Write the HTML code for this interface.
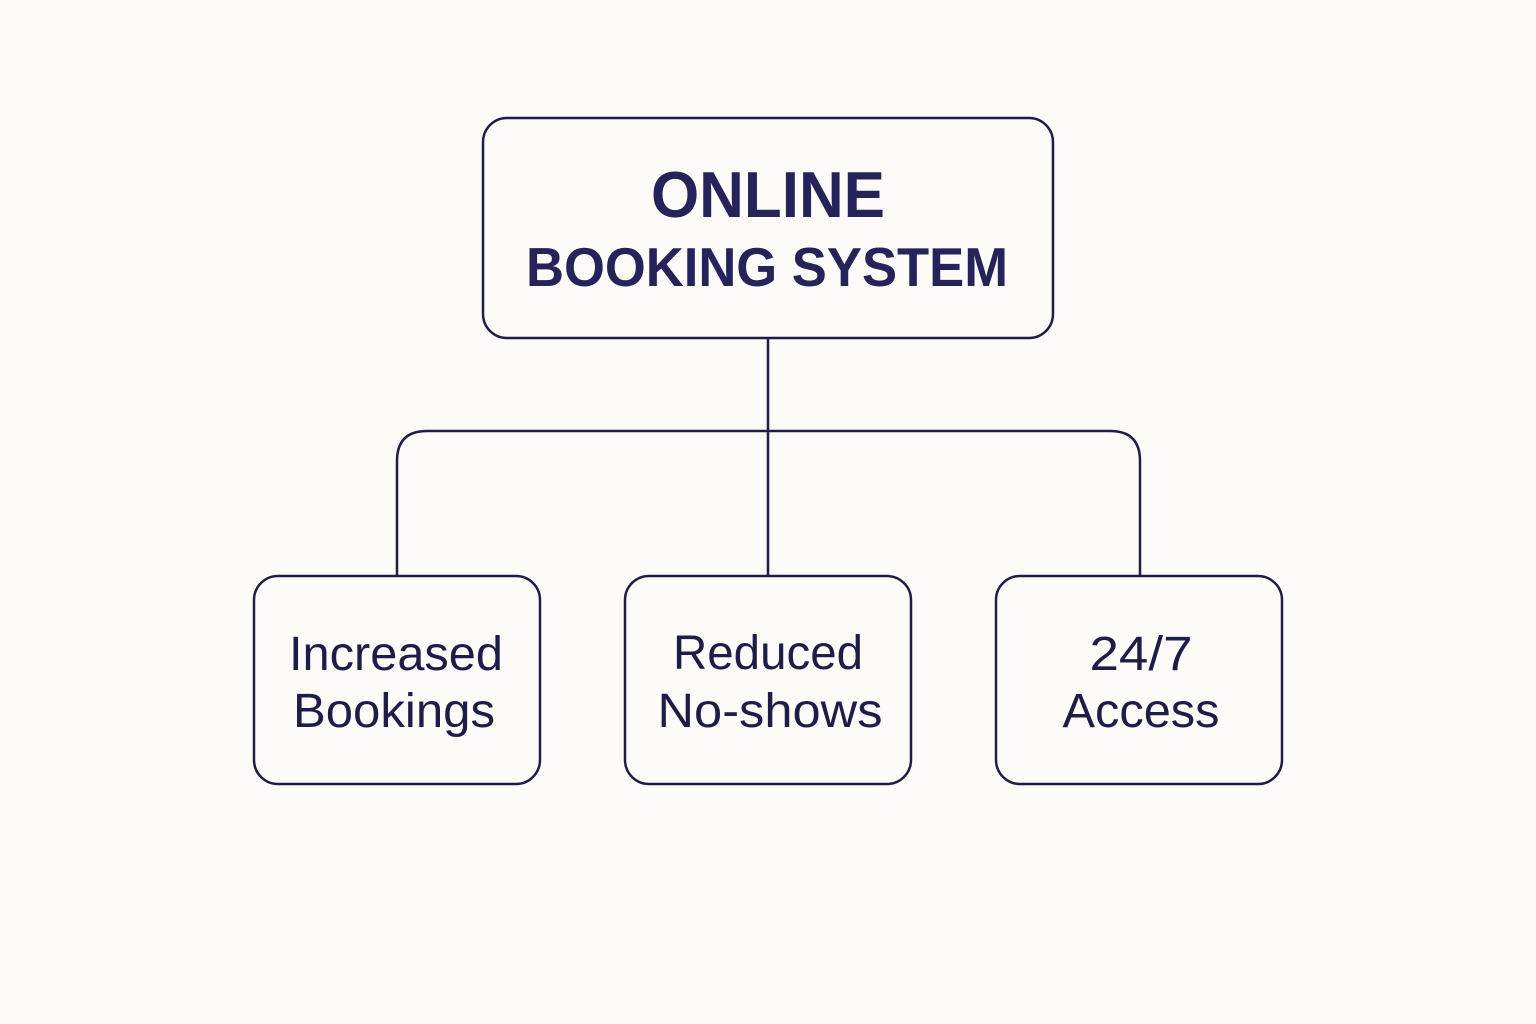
<!DOCTYPE html>
<html>
<head>
<meta charset="utf-8">
<style>
  html, body { margin: 0; padding: 0; background: #fcfbf7; }
  svg { display: block; }
</style>
</head>
<body>
<svg width="1536" height="1024" viewBox="0 0 1536 1024" xmlns="http://www.w3.org/2000/svg">
  <rect x="0" y="0" width="1536" height="1024" fill="#fcfbf7"/>
  <g fill="none" stroke="#1e1c48" stroke-width="2.5">
    <!-- main box -->
    <rect x="483" y="118" width="570" height="220" rx="24" ry="24"/>
    <!-- connectors -->
    <line x1="768" y1="338" x2="768" y2="576"/>
    <path d="M397 576 L397 461 Q397 431 427 431 L1110 431 Q1140 431 1140 461 L1140 576"/>
    <!-- child boxes -->
    <rect x="254" y="576" width="286" height="208" rx="24" ry="24"/>
    <rect x="625" y="576" width="286" height="208" rx="24" ry="24"/>
    <rect x="996" y="576" width="286" height="208" rx="24" ry="24"/>
  </g>
  <g font-family="'Liberation Sans', Arial, sans-serif" fill="#25235a" font-weight="bold" text-anchor="middle">
    <text x="768" y="217" font-size="65" textLength="234" lengthAdjust="spacingAndGlyphs">ONLINE</text>
    <text x="767" y="286" font-size="55" textLength="482" lengthAdjust="spacingAndGlyphs">BOOKING SYSTEM</text>
  </g>
  <g font-family="'Liberation Sans', Arial, sans-serif" fill="#1e1c48" text-anchor="middle" font-size="48">
    <text x="396" y="670" textLength="214" lengthAdjust="spacingAndGlyphs">Increased</text>
    <text x="394" y="727" textLength="202" lengthAdjust="spacingAndGlyphs">Bookings</text>
    <text x="768" y="669" textLength="190" lengthAdjust="spacingAndGlyphs">Reduced</text>
    <text x="770" y="727" textLength="225" lengthAdjust="spacingAndGlyphs">No-shows</text>
    <text x="1141" y="670" textLength="103" lengthAdjust="spacingAndGlyphs">24/7</text>
    <text x="1141" y="727" textLength="157" lengthAdjust="spacingAndGlyphs">Access</text>
  </g>
</svg>
</body>
</html>
